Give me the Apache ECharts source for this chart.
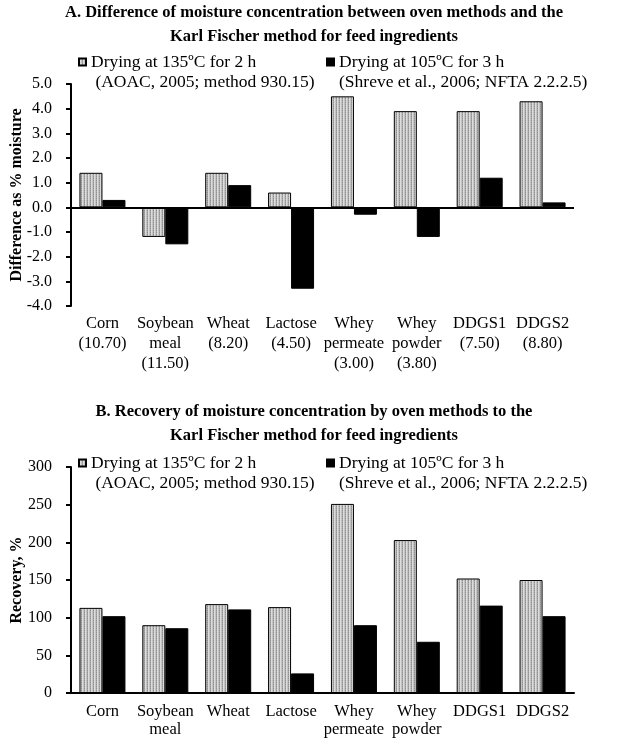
<!DOCTYPE html>
<html>
<head>
<meta charset="utf-8">
<script src="https://cdn.jsdelivr.net/npm/echarts@6/dist/echarts.min.js"></script>
<style>
  html, body { margin: 0; padding: 0; background: #fff; }
  #chart { width: 628px; height: 752px; }
</style>
</head>
<body>
<div id="chart"></div>
<script>
// ============================================
// DATA
// ============================================
const ingredients = ['Corn', 'Soybean\nmeal', 'Wheat', 'Lactose', 'Whey\npermeate', 'Whey\npowder', 'DDGS1', 'DDGS2'];
const kfMoisture = ['10.70', '11.50', '8.20', '4.50', '3.00', '3.80', '7.50', '8.80'];

// Panel A: difference, % moisture
const diff135 = [1.4, -1.2, 1.4, 0.6, 4.5, 3.9, 3.9, 4.3];
const diff105 = [0.3, -1.5, 0.9, -3.3, -0.3, -1.2, 1.2, 0.2];

// Panel B: recovery, %
const recovery135 = [113, 90, 118, 114, 251, 203, 152, 150];
const recovery105 = [102, 86, 111, 26, 90, 68, 116, 102];

const seriesNames = ['Drying at 135ºC for 2 h', 'Drying at 105ºC for 3 h'];
const seriesRefs = ['(AOAC, 2005; method 930.15)', '(Shreve et al., 2006; NFTA 2.2.2.5)'];

const titleA = 'A. Difference of moisture concentration between oven methods and the\nKarl Fischer method for feed ingredients';
const titleB = 'B. Recovery of moisture concentration by oven methods to the\nKarl Fischer method for feed ingredients';
const axisNameA = 'Difference as % moisture';
const axisNameB = 'Recovery, %';

// ============================================
// STYLE HELPERS
// ============================================
const FONT = "'Liberation Serif', 'Times New Roman', serif";

// stippled light-grey fill like the original bars
function makeStipple() {
    const c = document.createElement('canvas');
    c.width = 3;
    c.height = 2;
    const ctx = c.getContext('2d');
    ctx.fillStyle = '#dcdcdc';
    ctx.fillRect(0, 0, 3, 2);
    ctx.fillStyle = '#8e8e8e';
    ctx.fillRect(0, 0, 1, 1);
    ctx.fillStyle = '#a8a8a8';
    ctx.fillRect(0, 1, 1, 1);
    ctx.fillStyle = '#c4c4c4';
    ctx.fillRect(2, 0, 1, 2);
    return c;
}
const stipple = { image: makeStipple(), repeat: 'repeat' };

const greyStyle = { color: stipple, borderColor: '#000', borderWidth: 1 };
const blackStyle = { color: '#000', borderColor: '#000', borderWidth: 1 };

const labelsA = ingredients.map((name, i) => name + '\n(' + kfMoisture[i] + ')');

// one legend per entry; leading blank line keeps the icon level with the first text line
function legendFor(idx, left, top) {
    return {
        left: left,
        top: top,
        padding: 0,
        orient: 'horizontal',
        data: [seriesNames[idx]],
        icon: 'rect',
        itemWidth: 7,
        itemHeight: 7,
        selectedMode: false,
        formatter: function (name) {
            return '\n' + name + '\n' + (idx === 0 ? ' ' : '') + seriesRefs[idx];
        },
        textStyle: {
            fontFamily: FONT,
            fontSize: 17.5,
            color: '#000',
            lineHeight: 20
        }
    };
}

const tickLabel = { fontFamily: FONT, fontSize: 16, color: '#000' };
const axisNameStyle = { fontFamily: FONT, fontSize: 16, fontWeight: 'bold', color: '#000' };
const titleStyle = { fontFamily: FONT, fontSize: 16.5, fontWeight: 'bold', color: '#000', lineHeight: 24 };

function valueAxis(gridIndex, min, max, interval, name, fmt) {
    return {
        type: 'value',
        gridIndex: gridIndex,
        min: min,
        max: max,
        interval: interval,
        name: name,
        nameLocation: 'middle',
        nameGap: 46,
        nameMoveOverlap: false,
        nameTextStyle: axisNameStyle,
        axisLine: { show: true, lineStyle: { color: '#000', width: 2 } },
        axisTick: { show: true, inside: false, length: 5, lineStyle: { color: '#000', width: 2 } },
        splitLine: { show: false },
        axisLabel: Object.assign({ margin: 19, formatter: fmt }, tickLabel)
    };
}

const option = {
    animation: false,
    backgroundColor: '#fff',
    title: [
        { text: titleA, left: 'center', top: 1, padding: 0, textStyle: titleStyle },
        { text: titleB, left: 'center', top: 400, padding: 0, textStyle: titleStyle }
    ],
    legend: [
        legendFor(0, 78, 32),
        legendFor(1, 326, 32),
        legendFor(0, 78, 433),
        legendFor(1, 326, 433)
    ],
    grid: [
        { left: 71, top: 84, width: 503, height: 222, containLabel: false, outerBoundsMode: 'none' },
        { left: 71, top: 467, width: 503, height: 226, containLabel: false, outerBoundsMode: 'none' }
    ],
    xAxis: [
        {
            type: 'category',
            gridIndex: 0,
            data: labelsA,
            axisLine: { show: false, onZero: false },
            axisTick: { show: false },
            axisLabel: Object.assign({}, tickLabel, { interval: 0, margin: 8, lineHeight: 20, fontSize: 16.5 })
        },
        {
            type: 'category',
            gridIndex: 1,
            data: ingredients,
            axisLine: { show: true, lineStyle: { color: '#000', width: 2 } },
            axisTick: { show: false },
            axisLabel: Object.assign({}, tickLabel, { interval: 0, margin: 10, lineHeight: 18, fontSize: 16.5 })
        }
    ],
    yAxis: [
        valueAxis(0, -4, 5, 1, axisNameA, v => v.toFixed(1)),
        valueAxis(1, 0, 300, 50, axisNameB, v => String(v))
    ],
    series: [
        {
            name: seriesNames[0],
            type: 'bar',
            xAxisIndex: 0,
            yAxisIndex: 0,
            data: diff135,
            barWidth: 23,
            barGap: '0%',
            itemStyle: greyStyle
        },
        {
            name: seriesNames[1],
            type: 'bar',
            xAxisIndex: 0,
            yAxisIndex: 0,
            data: diff105,
            barWidth: 23,
            barGap: '0%',
            itemStyle: blackStyle,
            // zero line of panel A (category labels stay at the bottom)
            markLine: {
                silent: true,
                symbol: 'none',
                label: { show: false },
                lineStyle: { color: '#000', width: 2, type: 'solid' },
                data: [{ yAxis: 0 }]
            }
        },
        {
            name: seriesNames[0],
            type: 'bar',
            xAxisIndex: 1,
            yAxisIndex: 1,
            data: recovery135,
            barWidth: 23,
            barGap: '0%',
            itemStyle: greyStyle
        },
        {
            name: seriesNames[1],
            type: 'bar',
            xAxisIndex: 1,
            yAxisIndex: 1,
            data: recovery105,
            barWidth: 23,
            barGap: '0%',
            itemStyle: blackStyle
        }
    ]
};

const chart = echarts.init(document.getElementById('chart'), null, { renderer: 'canvas' });
chart.setOption(option);
</script>
</body>
</html>
